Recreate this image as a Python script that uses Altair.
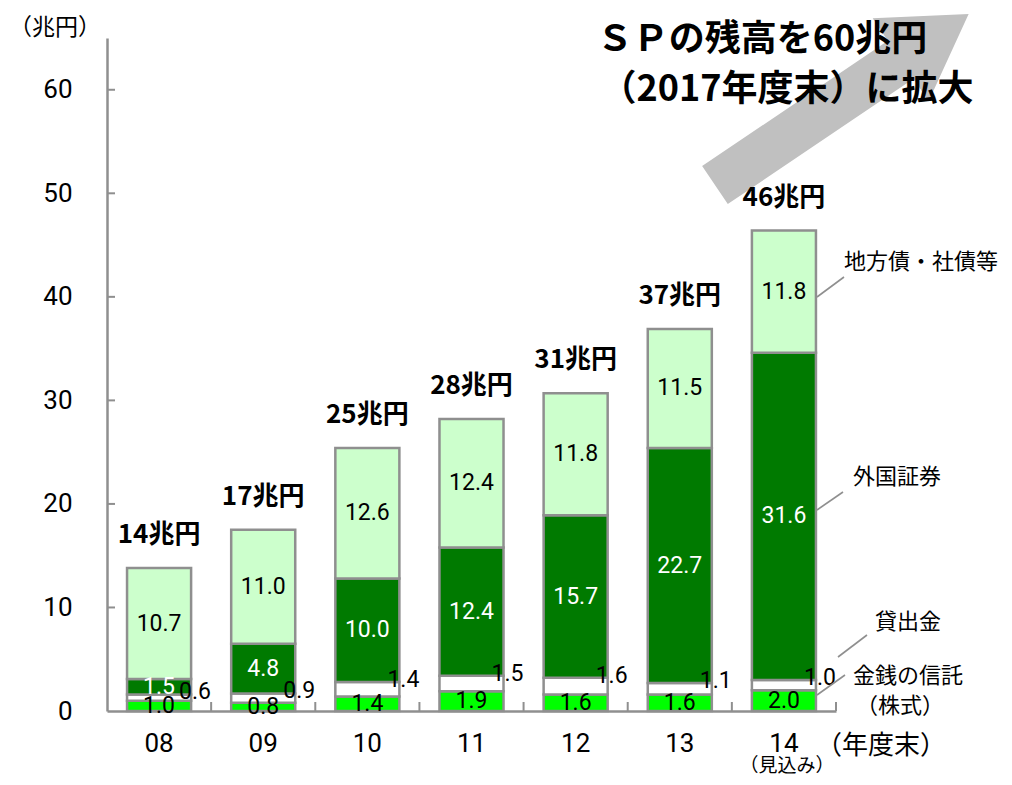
import altair as alt
import pandas as pd

# ---------------- data ----------------
years = ["08", "09", "10", "11", "12", "13", "14"]
series = ["金銭の信託（株式）", "貸出金", "外国証券", "地方債・社債等"]
trust = [1.0, 0.8, 1.4, 1.9, 1.6, 1.6, 2.0]        # 金銭の信託（株式）
loans = [0.6, 0.9, 1.4, 1.5, 1.6, 1.1, 1.0]        # 貸出金
foreign = [1.5, 4.8, 10.0, 12.4, 15.7, 22.7, 31.6]  # 外国証券
bonds = [10.7, 11.0, 12.6, 12.4, 11.8, 11.5, 11.8]  # 地方債・社債等
total_labels = ["14兆円", "17兆円", "25兆円", "28兆円", "31兆円", "37兆円", "46兆円"]
y_ticks = [0, 10, 20, 30, 40, 50, 60]
colors = ["#00ff00", "#ffffff", "#007a00", "#ccffcc"]

# ---------------- tables ----------------
rows = []
for i, yr in enumerate(years):
    cum = 0.0
    for s, vals in zip(series, [trust, loans, foreign, bonds]):
        v = vals[i]
        rows.append({"year": yr, "series": s, "value": v,
                     "start": round(cum, 3), "end": round(cum + v, 3),
                     "mid": round(cum + v / 2, 3)})
        cum += v
df = pd.DataFrame(rows)
tot = pd.DataFrame({"year": years,
                    "total": [round(sum(v), 3) for v in zip(trust, loans, foreign, bonds)],
                    "label": total_labels})

# ---------------- layout ----------------
W, H = 729, 673
STEP = W / len(years)
GREY = "#8f8f8f"
NUMF = "Roboto, Liberation Sans, Noto Sans CJK JP"
JPF = "Noto Sans CJK JP"

xscale = alt.Scale(domain=years, paddingInner=0.385, paddingOuter=0.1925)
xaxis = alt.Axis(title=None, labelAngle=0, ticks=False, grid=False,
                 domainColor=GREY, domainWidth=2.5, labelFont=NUMF,
                 labelFontSize=26, labelColor="#000000", labelPadding=19)
yscale = alt.Scale(domain=[0, 65], nice=False, zero=True)
yaxis = alt.Axis(title=None, values=y_ticks, ticks=False, grid=False,
                 domainColor=GREY, domainWidth=2.5, labelFont=NUMF,
                 labelFontSize=26, labelColor="#000000", labelPadding=35)


def X():
    return alt.X("year:N", scale=xscale, axis=xaxis, sort=years)


def Y(field):
    return alt.Y(f"{field}:Q", scale=yscale, axis=yaxis)


one = pd.DataFrame({"d": [0]})

# arrow (decorative)
ARROW = ("M-1,-0.150 L0.464,-0.150 L0.464,-0.327 L1,0 "
         "L0.464,0.327 L0.464,0.150 L-1,0.150 Z")
arrow = alt.Chart(one).mark_point(
    shape=ARROW, size=93636, angle=326, filled=True,
    color="#c0c0c0", opacity=1, strokeWidth=0
).encode(x=alt.value(841.8 - 107), y=alt.value(99.5 - 38))

bars = alt.Chart(df).mark_bar(stroke=GREY, strokeWidth=2.5).encode(
    x=X(), y=Y("start"), y2="end:Q",
    color=alt.Color("series:N", scale=alt.Scale(domain=series, range=colors), legend=None),
)

ytick_rules = alt.Chart(pd.DataFrame({"v": y_ticks[1:]})).mark_rule(
    color=GREY, strokeWidth=2
).encode(y=Y("v"), x=alt.value(0), x2=alt.value(8))

xtick_rules = alt.Chart(pd.DataFrame({"year": years})).mark_rule(
    color=GREY, strokeWidth=2, xOffset=STEP / 2
).encode(x=X(), y=alt.value(H), y2=alt.value(H - 9))


def seg_labels(name, color):
    return alt.Chart(df[df["series"] == name]).mark_text(
        font=NUMF, fontSize=23, color=color, baseline="middle", align="center"
    ).encode(x=X(), y=Y("mid"), text=alt.Text("value:Q", format=".1f"))


lab_trust = seg_labels(series[0], "#000000")
lab_foreign = seg_labels(series[2], "#ffffff")
lab_bonds = seg_labels(series[3], "#000000")
lab_loans = alt.Chart(df[df["series"] == series[1]]).mark_text(
    font=NUMF, fontSize=23, color="#000000", baseline="middle", align="center",
    dx=36, dy=-2
).encode(x=X(), y=Y("end"), text=alt.Text("value:Q", format=".1f"))

lab_total = alt.Chart(tot).mark_text(
    font=JPF, fontSize=26, fontWeight="bold", color="#000000",
    baseline="middle", align="center", dy=-33
).encode(x=X(), y=Y("total"), text="label:N")


def note(text, x, y, size=22, align="left", weight="normal"):
    return alt.Chart(one).mark_text(
        text=text, font=JPF, fontSize=size, fontWeight=weight, color="#000000",
        align=align, baseline="middle"
    ).encode(x=alt.value(x), y=alt.value(y))


def leader(x1, y1, x2, y2):
    return alt.Chart(one).mark_rule(color=GREY, strokeWidth=1.6).encode(
        x=alt.value(x1), y=alt.value(y1), x2=alt.value(x2), y2=alt.value(y2)
    )


notes = [
    note("ＳＰの残高を60兆円", 655, 2, size=36, align="center", weight="bold"),
    note("（2017年度末）に拡大", 680, 52, size=36, align="center", weight="bold"),
    note("（兆円）", -52, -10, size=23, align="center"),
    note("（年度末）", 774, 708, size=26, align="center"),
    note("（見込み）", 680, 728, size=19, align="center"),
    note("地方債・社債等", 737, 224),
    note("外国証券", 746, 439),
    note("貸出金", 768, 584),
    note("金銭の信託", 746, 638),
    note("（株式）", 793, 668, align="center"),
    leader(710, 259, 737, 239),
    leader(710, 472, 736, 454),
    leader(731, 619, 760, 597),
    leader(710, 657, 738, 637),
]

chart = alt.layer(
    arrow, bars, ytick_rules, xtick_rules,
    lab_trust, lab_loans, lab_foreign, lab_bonds, lab_total, *notes
).properties(
    width=W, height=H,
    padding={"left": 99, "top": 30, "right": 168, "bottom": 66},
    autosize=alt.AutoSizeParams(type="none"),
    background="#ffffff",
).configure_view(stroke=None)

chart.save("out.html", embed_options={"renderer": "svg", "actions": False})
